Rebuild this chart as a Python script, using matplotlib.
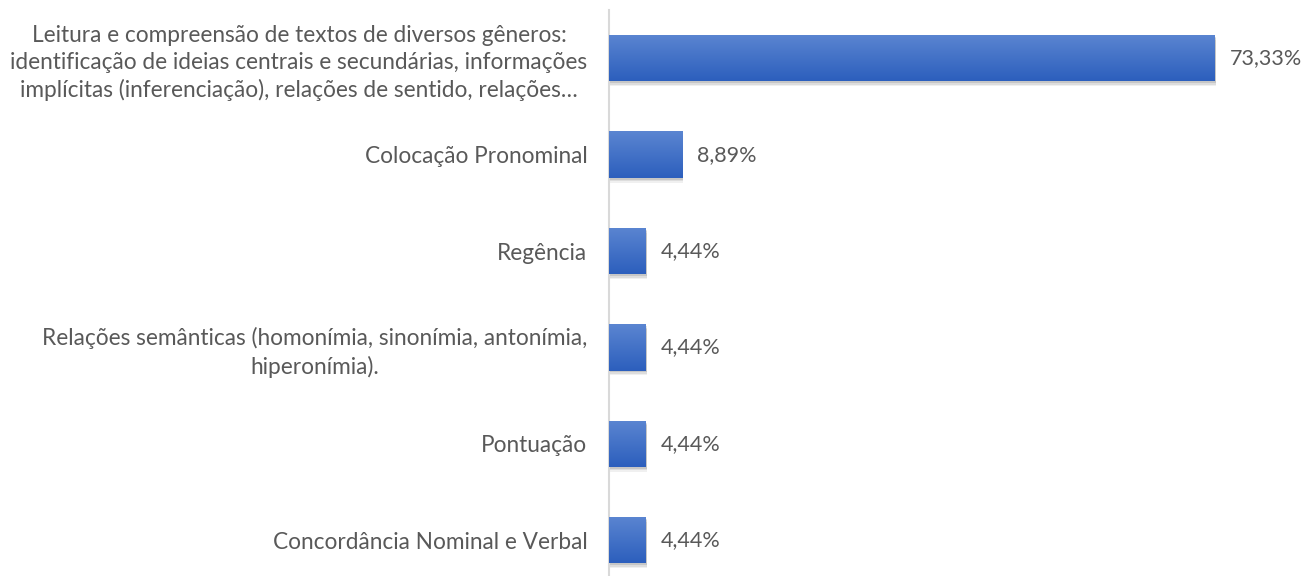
import numpy as np
import matplotlib.pyplot as plt
from matplotlib.colors import LinearSegmentedColormap

categories = [
    "Leitura e compreensão de textos de diversos gêneros:\n"
    "identificação de ideias centrais e secundárias, informações\n"
    "implícitas (inferenciação), relações de sentido, relações…",
    "Colocação Pronominal",
    "Regência",
    "Relações semânticas (homonímia, sinonímia, antonímia,\nhiperonímia).",
    "Pontuação",
    "Concordância Nominal e Verbal",
]
values = [73.33, 8.89, 4.44, 4.44, 4.44, 4.44]
value_labels = ["73,33%", "8,89%", "4,44%", "4,44%", "4,44%", "4,44%"]

plt.rcParams['font.family'] = ['Lato', 'DejaVu Sans']
text_color = "#595959"

fig = plt.figure(figsize=(13.04, 5.76), dpi=100)
ax = fig.add_axes([609 / 1304, 0.0, (1270 - 609) / 1304, 1 - 10 / 576])

y = np.arange(len(values))
bar_h = 0.48
grad = LinearSegmentedColormap.from_list("g", ["#2C5FBD", "#5B85D1"])

# soft shadow under each bar (a few stacked layers)
for k, a in [(0.05, 0.06), (0.035, 0.08), (0.02, 0.10)]:
    ax.barh(y + k, values, height=bar_h, left=0.1, color="#000000", alpha=a,
            linewidth=0, zorder=1)
bars = ax.barh(y, values, height=bar_h, color="#4472C4", linewidth=0, zorder=2)
for b in bars:
    x0, y0 = b.get_x(), b.get_y()
    w, h = b.get_width(), b.get_height()
    im = ax.imshow(np.linspace(0, 1, 100).reshape(-1, 1), cmap=grad, aspect="auto",
                   extent=[x0, x0 + w, y0, y0 + h], origin="upper", zorder=3)
    im.set_clip_path(b)

for yi, v, lab in zip(y, values, value_labels):
    ax.text(v + 1.8, yi, lab, va="center", ha="left", fontsize=15.5, color=text_color)

ax.set_xlim(0, 80)
ax.set_ylim(-0.5 + 566 / 96.4, -0.5)
ax.set_yticks(y)
ax.set_yticklabels(categories, fontsize=16.3, color=text_color, linespacing=1.34)
ax.tick_params(axis="y", length=0, pad=15.5)
ax.set_xticks([])
for s in ["top", "right", "bottom"]:
    ax.spines[s].set_visible(False)
ax.spines["left"].set_color("#D9D9D9")
ax.spines["left"].set_linewidth(1.5)
for t in ax.get_yticklabels():
    t.set_multialignment("center")

fig.savefig("out.png", dpi=100)
